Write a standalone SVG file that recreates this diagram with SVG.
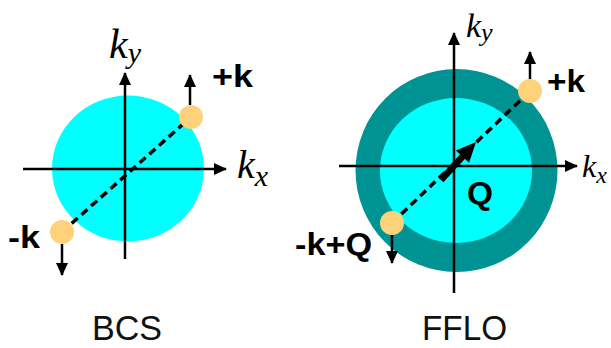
<svg xmlns="http://www.w3.org/2000/svg" width="611" height="348" viewBox="0 0 611 348">
  <style>
    .cyan { fill: #00FFFF; }
    .teal { fill: #009393; }
    .dot { fill: #FDD27A; }
    .axis { stroke: #000; stroke-width: 2.5; fill: none; }
    .spin { stroke: #000; stroke-width: 2.5; fill: none; }
    .dash { stroke: #000; stroke-width: 3.5; fill: none; stroke-dasharray: 8 5; }
    .lbl { font-family: "Liberation Sans", Arial, sans-serif; font-weight: bold; font-size: 32px; fill: #000; }
    .math { font-family: "Liberation Serif", "Times New Roman", serif; font-style: italic; fill: #000; }
    .cap { font-family: "Liberation Sans", Arial, sans-serif; font-size: 35px; fill: #111; }
  </style>
  <defs>
    <marker id="ah" markerUnits="userSpaceOnUse" markerWidth="13" markerHeight="12" refX="12" refY="6" orient="auto">
      <path d="M0,0 L13,6 L0,12 z" fill="#000"/>
    </marker>
  </defs>

  <!-- BCS -->
  <g id="bcs-fermi-sea">
    <ellipse class="cyan" cx="128" cy="168.5" rx="76" ry="73"/>
  </g>
  <!-- FFLO -->
  <g id="fflo-fermi-sea">
    <ellipse class="teal" cx="456.5" cy="170.5" rx="101" ry="101.5"/>
    <ellipse class="cyan" cx="456" cy="170.5" rx="76" ry="72.5"/>
  </g>

  <g id="connectors">
    <!-- BCS axes -->
    <line class="axis" x1="23" y1="169" x2="226" y2="169" marker-end="url(#ah)"/>
    <line class="axis" x1="125" y1="259" x2="125" y2="73" marker-end="url(#ah)"/>
    <!-- FFLO axes -->
    <line class="axis" x1="339" y1="166" x2="577" y2="166" marker-end="url(#ah)"/>
    <line class="axis" x1="454" y1="293" x2="454" y2="33" marker-end="url(#ah)"/>
    <!-- pairing lines -->
    <line class="dash" x1="62" y1="232" x2="191" y2="117"/>
    <line class="dash" x1="392" y1="223" x2="530" y2="91"/>
    <!-- Q vector -->
    <line x1="441" y1="180" x2="464" y2="155" stroke="#000" stroke-width="6.5"/>
    <polygon points="476,142 455.9,150.6 469.1,162.8" fill="#000"/>
    <!-- spin arrows -->
    <line class="spin" x1="190" y1="105" x2="190" y2="75" marker-end="url(#ah)"/>
    <line class="spin" x1="62" y1="244" x2="62" y2="275" marker-end="url(#ah)"/>
    <line class="spin" x1="530" y1="79" x2="530" y2="52" marker-end="url(#ah)"/>
    <line class="spin" x1="392" y1="235" x2="392" y2="263" marker-end="url(#ah)"/>
  </g>

  <g id="bcs-plus-k">
    <circle class="dot" cx="191" cy="117" r="12"/>
    <text class="lbl" x="212" y="87" textLength="41" lengthAdjust="spacingAndGlyphs">+k</text>
  </g>
  <g id="bcs-minus-k">
    <circle class="dot" cx="62" cy="232" r="12"/>
    <text class="lbl" x="8" y="248" textLength="32" lengthAdjust="spacingAndGlyphs">-k</text>
  </g>
  <g id="fflo-plus-k">
    <circle class="dot" cx="530" cy="91" r="12"/>
    <text class="lbl" x="547" y="92" textLength="38" lengthAdjust="spacingAndGlyphs">+k</text>
  </g>
  <g id="fflo-minus-k-plus-q">
    <circle class="dot" cx="392" cy="223" r="12"/>
    <text class="lbl" x="295" y="255" textLength="77" lengthAdjust="spacingAndGlyphs">-k+Q</text>
  </g>
  <g id="fflo-q-label">
    <text class="lbl" x="467" y="204" textLength="26" lengthAdjust="spacingAndGlyphs">Q</text>
  </g>

  <g id="axis-labels">
    <text class="math" x="109" y="58" font-size="42">k<tspan font-size="30" dy="5">y</tspan></text>
    <text class="math" x="237" y="178" font-size="40">k<tspan font-size="30" dy="8">x</tspan></text>
    <text class="math" x="466" y="37" font-size="34">k<tspan font-size="26" dy="4">y</tspan></text>
    <text class="math" x="582" y="177" font-size="32">k<tspan font-size="24" dy="6">x</tspan></text>
  </g>

  <g id="captions">
    <text class="cap" x="92" y="340" textLength="70" lengthAdjust="spacingAndGlyphs">BCS</text>
    <text class="cap" x="422" y="340" textLength="85" lengthAdjust="spacingAndGlyphs">FFLO</text>
  </g>
</svg>
